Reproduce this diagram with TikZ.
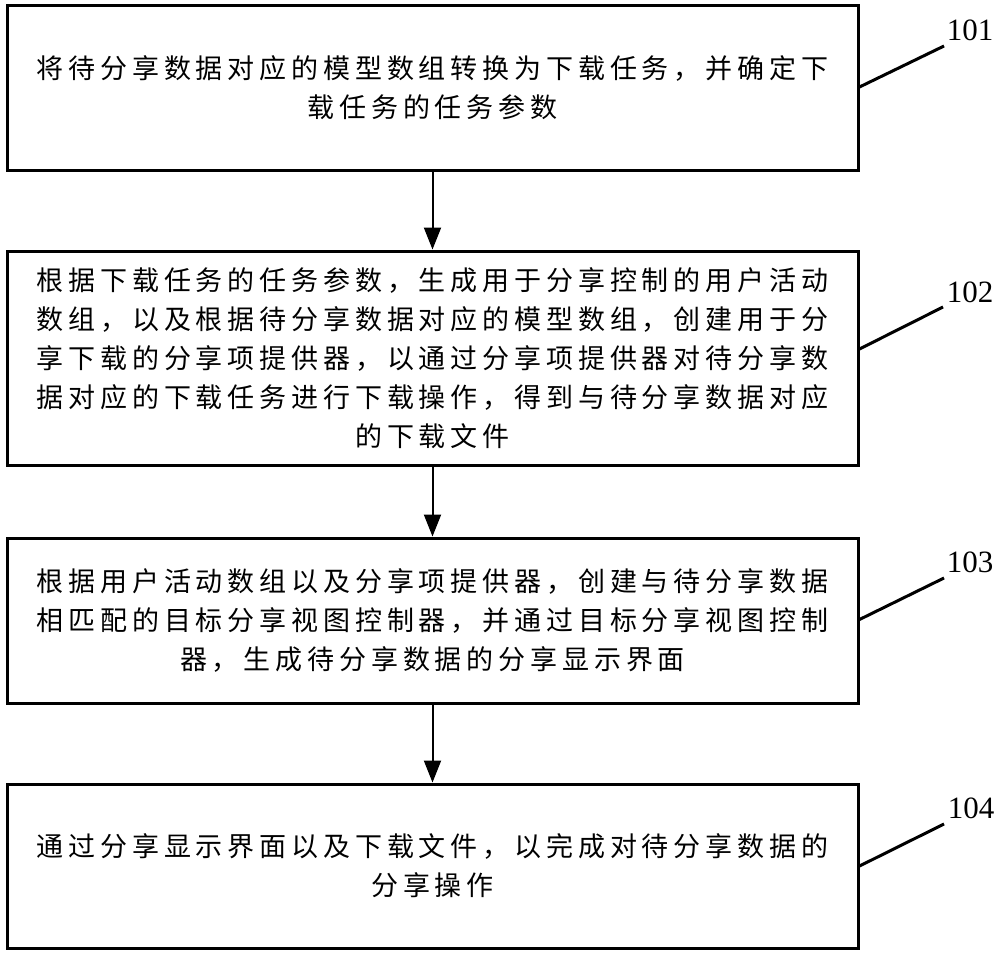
\documentclass[tikz,border=0pt]{standalone}
\usepackage{fontspec}
\newfontfamily\cjk[LetterSpace=18]{Noto Sans CJK SC}
\newfontfamily\numfont{Liberation Serif}
\usetikzlibrary{arrows.meta}
\begin{document}
\begin{tikzpicture}[x=1pt,y=-1pt,
  stepbox/.style={draw,line width=3pt,minimum width=851pt,align=center,inner sep=0pt,
    font=\cjk\fontsize{27}{39}\selectfont},
  arr/.style={line width=2pt,-{Triangle[width=17pt,length=22pt]}},
  leader/.style={line width=3pt},
  num/.style={font=\numfont\fontsize{31}{31}\selectfont,inner sep=0pt}]
\useasboundingbox (0,0) rectangle (1000,955);
\node[stepbox,minimum height=164pt] (b1) at (432.5,88) {将待分享数据对应的模型数组转换为下载任务，并确定下\\载任务的任务参数};
\node[stepbox,minimum height=214pt] (b2) at (432.5,358) {根据下载任务的任务参数，生成用于分享控制的用户活动\\数组，以及根据待分享数据对应的模型数组，创建用于分\\享下载的分享项提供器，以通过分享项提供器对待分享数\\据对应的下载任务进行下载操作，得到与待分享数据对应\\的下载文件};
\node[stepbox,minimum height=165pt] (b3) at (432.5,620.5) {根据用户活动数组以及分享项提供器，创建与待分享数据\\相匹配的目标分享视图控制器，并通过目标分享视图控制\\器，生成待分享数据的分享显示界面};
\node[stepbox,minimum height=164pt] (b4) at (432.5,866) {通过分享显示界面以及下载文件，以完成对待分享数据的\\分享操作};
\draw[arr] (b1.south) -- (b2.north);
\draw[arr] (b2.south) -- (b3.north);
\draw[arr] (b3.south) -- (b4.north);
\coordinate (e1) at (944,46);
\coordinate (e2) at (943,307);
\coordinate (e3) at (944,578);
\coordinate (e4) at (944,824);
\draw[leader] ([yshift=1pt]b1.east) -- (e1);
\draw[leader] ([yshift=9pt]b2.east) -- (e2);
\draw[leader] ([yshift=1pt]b3.east) -- (e3);
\draw[leader] (b4.east) -- (e4);
\node[num] (n1) at (970,30) {101};
\node[num] (n2) at (970,292) {102};
\node[num] (n3) at (970,562) {103};
\node[num] (n4) at (971,808) {104};
\end{tikzpicture}
\end{document}
